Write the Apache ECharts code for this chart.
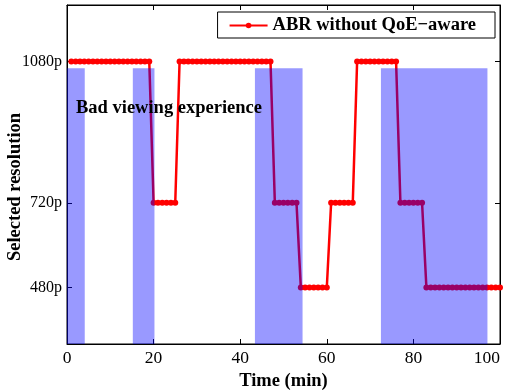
<!DOCTYPE html>
<html>
<head>
<meta charset="utf-8">
<script src="https://cdn.jsdelivr.net/npm/echarts@6/dist/echarts.min.js"></script>
<style>
  html, body { margin: 0; padding: 0; background: #fff; }
  #chart { width: 505px; height: 392px; }
</style>
</head>
<body>
<div id="chart"></div>
<script>
// resolution levels, stored as bitrate (kbps) so spacing matches the figure
const levelValues = [1000, 2500, 5000];
const levelLabels = ['480p', '720p', '1080p'];

const minutes = [
  1, 2, 3, 4, 5, 6, 7, 8, 9, 10,
  11, 12, 13, 14, 15, 16, 17, 18, 19, 20,
  21, 22, 23, 24, 25, 26, 27, 28, 29, 30,
  31, 32, 33, 34, 35, 36, 37, 38, 39, 40,
  41, 42, 43, 44, 45, 46, 47, 48, 49, 50,
  51, 52, 53, 54, 55, 56, 57, 58, 59, 60,
  61, 62, 63, 64, 65, 66, 67, 68, 69, 70,
  71, 72, 73, 74, 75, 76, 77, 78, 79, 80,
  81, 82, 83, 84, 85, 86, 87, 88, 89, 90,
  91, 92, 93, 94, 95, 96, 97, 98, 99, 100
];
const abrRate = [
  5000, 5000, 5000, 5000, 5000, 5000, 5000, 5000, 5000, 5000,
  5000, 5000, 5000, 5000, 5000, 5000, 5000, 5000, 5000, 2500,
  2500, 2500, 2500, 2500, 2500, 5000, 5000, 5000, 5000, 5000,
  5000, 5000, 5000, 5000, 5000, 5000, 5000, 5000, 5000, 5000,
  5000, 5000, 5000, 5000, 5000, 5000, 5000, 2500, 2500, 2500,
  2500, 2500, 2500, 1000, 1000, 1000, 1000, 1000, 1000, 1000,
  2500, 2500, 2500, 2500, 2500, 2500, 5000, 5000, 5000, 5000,
  5000, 5000, 5000, 5000, 5000, 5000, 2500, 2500, 2500, 2500,
  2500, 2500, 1000, 1000, 1000, 1000, 1000, 1000, 1000, 1000,
  1000, 1000, 1000, 1000, 1000, 1000, 1000, 1000, 1000, 1000
];

// "bad viewing experience" bands
const bandStart = [0, 15.2, 43.4, 72.5];
const bandEnd = [4.1, 20.2, 54.4, 97.1];
const bandTop = [4880, 4880, 4880, 4880];

const FONT = "'Liberation Serif', 'Times New Roman', serif";

const chart = echarts.init(document.getElementById('chart'), null, { renderer: 'canvas' });

function ticks(extra) {
  return Object.assign({ show: true, inside: true, length: 5, lineStyle: { color: '#000', width: 1 } }, extra || {});
}

chart.setOption({
  animation: false,
  backgroundColor: '#fff',
  grid: {
    left: 67, right: 5, top: 5, bottom: 48,
    containLabel: false, outerBoundsMode: 'none',
    show: true, borderColor: '#000', borderWidth: 1, backgroundColor: 'transparent',
  },
  legend: {
    data: ['ABR without QoE\u2212aware'],
    right: 10,
    top: 12,
    padding: [4, 19, 3, 11],
    itemWidth: 38,
    itemHeight: 7,
    itemGap: 8,
    borderColor: '#000',
    borderWidth: 1,
    backgroundColor: '#fff',
    textStyle: { fontFamily: FONT, fontSize: 18.5, fontWeight: 'bold', color: '#000' },
  },
  graphic: [{
    type: 'text',
    left: 76,
    top: 99,
    z: 10,
    style: { text: 'Bad viewing experience', font: 'bold 18.5px ' + FONT, fill: '#000' },
  }, {
    type: 'text',
    x: 15,
    y: 187,
    rotation: Math.PI / 2,
    z: 10,
    style: {
      text: 'Selected resolution', font: 'bold 18.5px ' + FONT, fill: '#000',
      align: 'center', verticalAlign: 'middle',
    },
  }],
  xAxis: [{
    type: 'value',
    min: 0,
    max: 100,
    interval: 20,
    name: 'Time (min)',
    nameLocation: 'middle',
    nameGap: 24,
    nameTextStyle: { fontFamily: FONT, fontSize: 18.5, fontWeight: 'bold', color: '#000' },
    axisLine: { onZero: false, lineStyle: { color: '#000' } },
    axisTick: ticks(),
    axisLabel: { fontFamily: FONT, fontSize: 17.5, color: '#000', margin: 5, alignMaxLabel: 'right' },
    splitLine: { show: false },
  }, {
    type: 'value',
    position: 'top',
    min: 0,
    max: 100,
    interval: 20,
    axisLine: { onZero: false, lineStyle: { color: '#000' } },
    axisTick: ticks(),
    axisLabel: { show: false },
    splitLine: { show: false },
  }],
  yAxis: [{
    type: 'value',
    min: 0,
    max: 6000,
    axisLine: { onZero: false, lineStyle: { color: '#000' } },
    axisTick: ticks({ customValues: levelValues }),
    axisLabel: {
      customValues: levelValues,
      fontFamily: FONT, fontSize: 16, color: '#000', margin: 5,
      formatter: v => levelLabels[levelValues.indexOf(v)] || '',
    },
    splitLine: { show: false },
  }, {
    type: 'value',
    position: 'right',
    min: 0,
    max: 6000,
    axisLine: { onZero: false, lineStyle: { color: '#000' } },
    axisTick: ticks({ customValues: levelValues }),
    axisLabel: { show: false },
    splitLine: { show: false },
  }],
  series: [{
    name: 'ABR without QoE\u2212aware',
    type: 'line',
    data: minutes.map((m, i) => [m, abrRate[i]]),
    color: '#ff0000',
    lineStyle: { width: 2.5, color: '#ff0000' },
    symbol: 'circle',
    symbolSize: 6,
    showAllSymbol: true,
    itemStyle: { color: '#ff0000' },
    z: 2,
  }, {
    name: 'bands',
    type: 'custom',
    z: 3,
    clip: true,
    data: bandStart.map((s, i) => [s, bandEnd[i], bandTop[i]]),
    renderItem: (params, api) => {
      const p0 = api.coord([api.value(0), api.value(2)]);
      const p1 = api.coord([api.value(1), 0]);
      return {
        type: 'rect',
        shape: { x: p0[0], y: p0[1], width: p1[0] - p0[0], height: p1[1] - p0[1] },
        style: { fill: 'rgba(0,0,255,0.4)' },
      };
    },
  }],
});
</script>
</body>
</html>
